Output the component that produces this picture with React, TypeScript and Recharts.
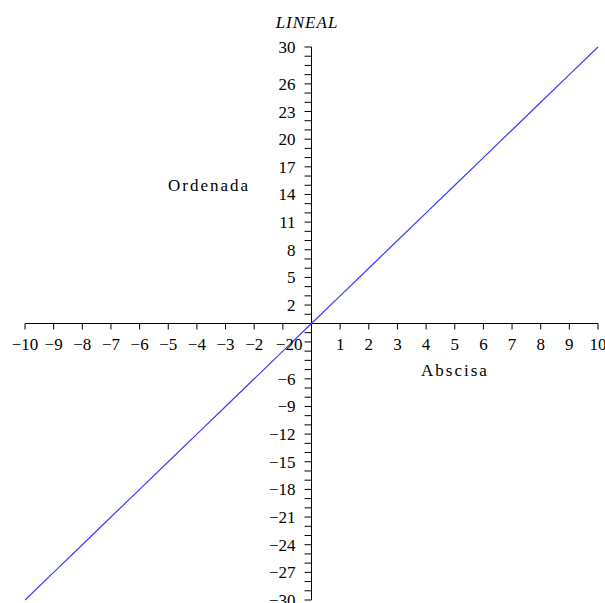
import React from 'react';
import { LineChart, Line, XAxis, YAxis, ReferenceLine, ReferenceDot } from 'recharts';

// points of the plotted line
const xValues = [-10, -9, -8, -7, -6, -5, -4, -3, -2, -1, 0, 1, 2, 3, 4, 5, 6, 7, 8, 9, 10];
const yValues = [-30, -27, -24, -21, -18, -15, -12, -9, -6, -3, 0, 3, 6, 9, 12, 15, 18, 21, 24, 27, 30];

// axis ticks and their labels
const xTicks = [-10, -9, -8, -7, -6, -5, -4, -3, -2, -1, 1, 2, 3, 4, 5, 6, 7, 8, 9, 10];
const xTickLabels = ['−10', '−9', '−8', '−7', '−6', '−5', '−4', '−3', '−2', '−20', '1', '2', '3', '4', '5', '6', '7', '8', '9', '10'];
const yLabelTicks = [30, 26, 23, 20, 17, 14, 11, 8, 5, 2, -6, -9, -12, -15, -18, -21, -24, -27, -30];
const yMinorTicks = Array.from({ length: 61 }, (_, i) => i - 30).filter((v) => v !== 0);

const data = xValues.map((x, i) => ({ x, y: yValues[i] }));

const FONT = '"Liberation Serif", "Times New Roman", serif';

const xTickShape = (label: string, isMinusOne: boolean) => (p: any) => (
  <g>
    <line x1={p.cx} y1={p.cy} x2={p.cx} y2={p.cy + 6} stroke="#000" strokeWidth={1} />
    <text
      x={isMinusOne ? p.cx - 7 : p.cx}
      y={p.cy + 26}
      textAnchor={isMinusOne ? 'start' : 'middle'}
      fontFamily={FONT}
      fontSize={17}
      fill="#000"
    >
      {label}
    </text>
  </g>
);

const yMinorShape = (p: any) => (
  <line x1={p.cx - 7} y1={p.cy} x2={p.cx} y2={p.cy} stroke="#000" strokeWidth={1} />
);

const yLabelShape = (label: string) => (p: any) => (
  <text x={p.cx - 16} y={p.cy + 6} textAnchor="end" fontFamily={FONT} fontSize={17} fill="#000">
    {label}
  </text>
);

const App: React.FC = () => {
  return (
    <div style={{ position: 'absolute', left: 0, top: 0, width: 605, height: 603, background: '#fff' }}>
      <LineChart width={605} height={603} data={data} margin={{ top: 47, right: 7, left: 25, bottom: 3 }}>
        <XAxis dataKey="x" type="number" domain={[-10, 10]} hide />
        <YAxis type="number" domain={[-30, 30]} hide />
        <ReferenceLine x={0} stroke="#000" strokeWidth={1} />
        <ReferenceLine y={0} stroke="#000" strokeWidth={1} />
        {xTicks.map((v, i) => (
          <ReferenceDot key={'xt' + v} x={v} y={0} shape={xTickShape(xTickLabels[i], v === -1)} />
        ))}
        {yMinorTicks.map((v) => (
          <ReferenceDot key={'ym' + v} x={0} y={v} shape={yMinorShape} />
        ))}
        {yLabelTicks.map((v) => (
          <ReferenceDot key={'yl' + v} x={0} y={v} shape={yLabelShape(v < 0 ? '−' + Math.abs(v) : String(v))} />
        ))}
        <Line
          type="linear"
          dataKey="y"
          stroke="#3c3cff"
          strokeWidth={1.2}
          dot={false}
          isAnimationActive={false}
        />
      </LineChart>
      <svg width={605} height={603} style={{ position: 'absolute', left: 0, top: 0, pointerEvents: 'none' }}>
        <text x={307} y={28} textAnchor="middle" fontFamily={FONT} fontStyle="italic" fontSize={17} letterSpacing={1}>
          LINEAL
        </text>
        <text x={209} y={191} textAnchor="middle" fontFamily={FONT} fontSize={17} letterSpacing={2}>
          Ordenada
        </text>
        <text x={455} y={376} textAnchor="middle" fontFamily={FONT} fontSize={17} letterSpacing={2}>
          Abscisa
        </text>
      </svg>
    </div>
  );
};

export default App;
